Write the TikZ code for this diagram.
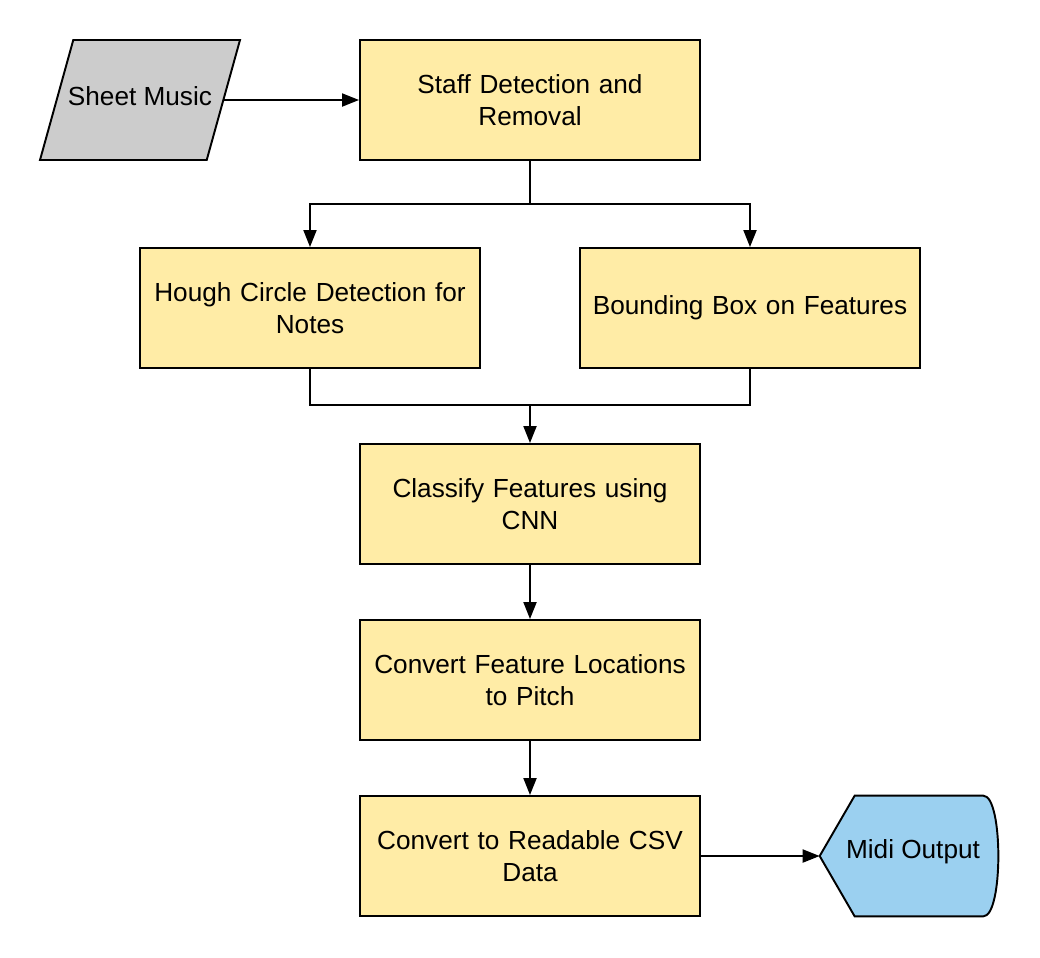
\documentclass[tikz,border=0pt]{standalone}
\usepackage{fontspec}
\setmainfont{Liberation Sans}
\usepackage{tikz}
\usetikzlibrary{arrows.meta,shapes.geometric}

\definecolor{stepfill}{HTML}{FFECA6}
\definecolor{inputfill}{HTML}{CCCCCC}
\definecolor{outputfill}{HTML}{9BD0F0}

\tikzset{
	stepbox/.style={draw, line width=1.1pt, fill=stepfill, minimum width=6.8cm, minimum height=2.4cm, text width=6.4cm, align=center},
	flow/.style={line width=1.1pt, -{Triangle[length=0.34cm, width=0.26cm]}},
	link/.style={line width=1.1pt}
}

\begin{document}
\begin{tikzpicture}[x=0.02cm, y=-0.02cm, every node/.style={font=\fontsize{14.9}{18.2}\selectfont}]
		\useasboundingbox (0, 0) rectangle (1040, 957);
	
		\node at (140, 100) [trapezium, trapezium left angle=76, trapezium right angle=104, trapezium stretches=true, minimum width=4cm, minimum height=2.4cm, draw, line width=1.1pt, fill=inputfill] (sheet) {};
		\node at (140, 96) {Sheet Music};
		
		\node at (530, 100) [stepbox] (staff) {Staff Detection and\\Removal};
		\node at (310, 308) [stepbox] (hough) {Hough Circle Detection for\\Notes};
		\node at (750, 308) [stepbox] (bbox) {Bounding Box on Features};
		\node at (530, 504) [stepbox] (classify) {Classify Features using\\CNN};
		\node at (530, 680) [stepbox] (pitch) {Convert Feature Locations\\to Pitch};
		\node at (530, 856) [stepbox] (csv) {Convert to Readable CSV\\Data};
		
		\node at (910, 856) [minimum width=3.6cm, minimum height=2.4cm] (midi) {};
		\filldraw [line width=1.1pt, fill=outputfill] (midi.west) -- ([xshift=0.7cm]midi.north west) -- ([xshift=-0.34cm]midi.north east)
			.. controls ([xshift=0.06cm]midi.north east) and ([xshift=0.06cm]midi.south east) .. ([xshift=-0.34cm]midi.south east)
			-- ([xshift=0.7cm]midi.south west) -- cycle;
		\node at (913, 852) {Midi Output};
		
		\coordinate (split) at (530, 204);
		\coordinate (merge) at (530, 405);
		
		\draw [flow] (sheet.east) -- (staff.west);
		\draw [link] (staff.south) -- (split);
		\draw [flow] (split) -| (hough.north);
		\draw [flow] (split) -| (bbox.north);
		\draw [link] (hough.south) |- (merge);
		\draw [link] (bbox.south) |- (merge);
		\draw [flow] (merge) -- (classify.north);
		\draw [flow] (classify) -- (pitch);
		\draw [flow] (pitch) -- (csv);
		\draw [flow] (csv) -- (midi.west);
	\end{tikzpicture}
\end{document}
